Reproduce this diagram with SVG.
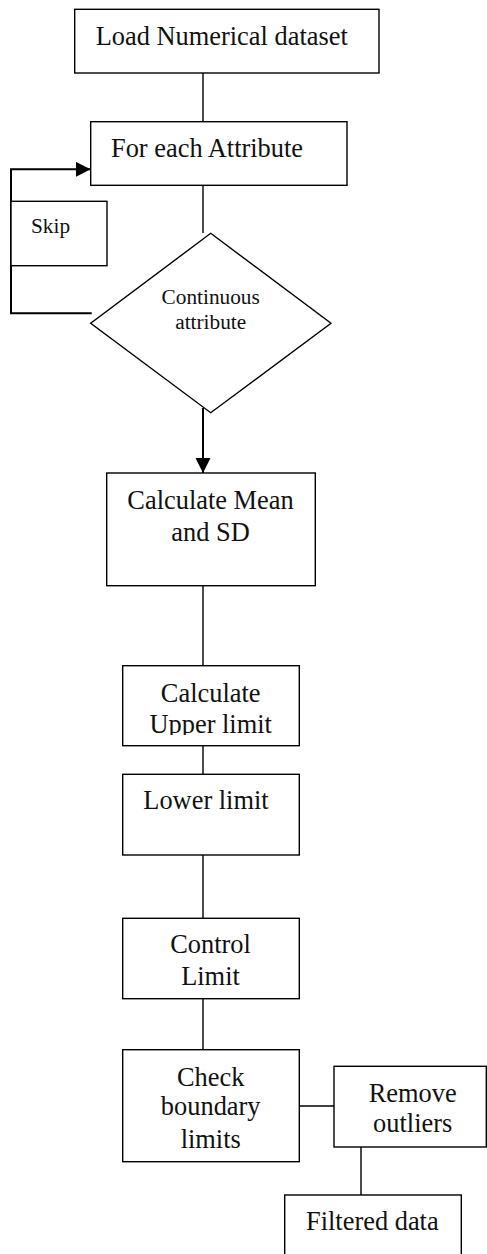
<svg xmlns="http://www.w3.org/2000/svg" width="487" height="1254" viewBox="0 0 487 1254">
  <style>
    .box { fill: #ffffff; stroke: #000000; stroke-width: 1.4; }
    .ln { fill: none; stroke: #000000; stroke-width: 1.4; }
    .thick { fill: none; stroke: #000000; stroke-width: 2; }
    .t { font-family: "Liberation Serif", "Times New Roman", serif; font-size: 26.4px; fill: #111111; }
    .s { font-family: "Liberation Serif", "Times New Roman", serif; font-size: 21.3px; fill: #111111; }
    .m { text-anchor: middle; }
  </style>
  <defs>
    <marker id="arr" markerUnits="userSpaceOnUse" markerWidth="16" markerHeight="16" refX="15" refY="7.5" orient="auto">
      <path d="M0,0 L15,7.5 L0,15 Z" fill="#000000"/>
    </marker>
    <clipPath id="clipUpper">
      <rect x="122" y="665" width="178" height="70"/>
    </clipPath>
  </defs>

  <g id="connectors">
    <line class="ln" x1="203" y1="73" x2="203" y2="121.7"/>
    <line class="ln" x1="203" y1="185.3" x2="203" y2="233"/>
    <path class="thick" d="M91.7,313.3 H11 V169.3 H90.7" marker-end="url(#arr)"/>
    <path class="thick" d="M203,408 V473" marker-end="url(#arr)"/>
    <line class="ln" x1="203" y1="585.7" x2="203" y2="665.7"/>
    <line class="ln" x1="203" y1="745.7" x2="203" y2="774.3"/>
    <line class="ln" x1="203" y1="855" x2="203" y2="918.3"/>
    <line class="ln" x1="203" y1="998.7" x2="203" y2="1049.7"/>
    <line class="ln" x1="299.3" y1="1106" x2="334" y2="1106"/>
    <line class="ln" x1="361" y1="1147" x2="361" y2="1195"/>
  </g>

  <g id="load">
    <rect class="box" x="74.7" y="9.3" width="304.3" height="63.7"/>
    <text class="t" x="95.7" y="45">Load Numerical dataset</text>
  </g>

  <g id="foreach">
    <rect class="box" x="90.7" y="121.7" width="256.3" height="63.6"/>
    <text class="t" x="111" y="156.7">For each Attribute</text>
  </g>

  <g id="skip">
    <rect class="box" x="11" y="201.3" width="96" height="64.4"/>
    <text class="s" x="31" y="233">Skip</text>
  </g>

  <g id="decision">
    <polygon class="box" points="210.7,233.3 331,323.3 210.7,412.7 90.7,323.3"/>
    <text class="s m" x="210.7" y="304">Continuous</text>
    <text class="s m" x="210.7" y="329.3">attribute</text>
  </g>

  <g id="meansd">
    <rect class="box" x="106.7" y="473" width="208.6" height="112.7"/>
    <text class="t m" x="210.5" y="509">Calculate Mean</text>
    <text class="t m" x="210.5" y="540.7">and SD</text>
  </g>

  <g id="upper">
    <rect class="box" x="122.7" y="665.7" width="176.6" height="80"/>
    <g clip-path="url(#clipUpper)">
      <text class="t m" x="210.7" y="701.7">Calculate</text>
      <text class="t m" x="210.7" y="733.3">Upper limit</text>
    </g>
  </g>

  <g id="lower">
    <rect class="box" x="122.7" y="774.3" width="176.6" height="80.7"/>
    <text class="t" x="143.3" y="809.3">Lower limit</text>
  </g>

  <g id="control">
    <rect class="box" x="122.7" y="918.3" width="176.6" height="80.4"/>
    <text class="t m" x="210.5" y="953.3">Control</text>
    <text class="t m" x="210.5" y="985">Limit</text>
  </g>

  <g id="check">
    <rect class="box" x="122.7" y="1049.7" width="176.6" height="112"/>
    <text class="t m" x="210.7" y="1085.7">Check</text>
    <text class="t m" x="210.7" y="1115">boundary</text>
    <text class="t m" x="210.7" y="1148.3">limits</text>
  </g>

  <g id="remove">
    <rect class="box" x="334" y="1066.3" width="152.3" height="80.7"/>
    <text class="t m" x="412.7" y="1101.7">Remove</text>
    <text class="t m" x="412.7" y="1132.3">outliers</text>
  </g>

  <g id="filtered">
    <rect class="box" x="284.7" y="1195" width="176.6" height="80"/>
    <text class="t" x="306" y="1230">Filtered data</text>
  </g>
</svg>
